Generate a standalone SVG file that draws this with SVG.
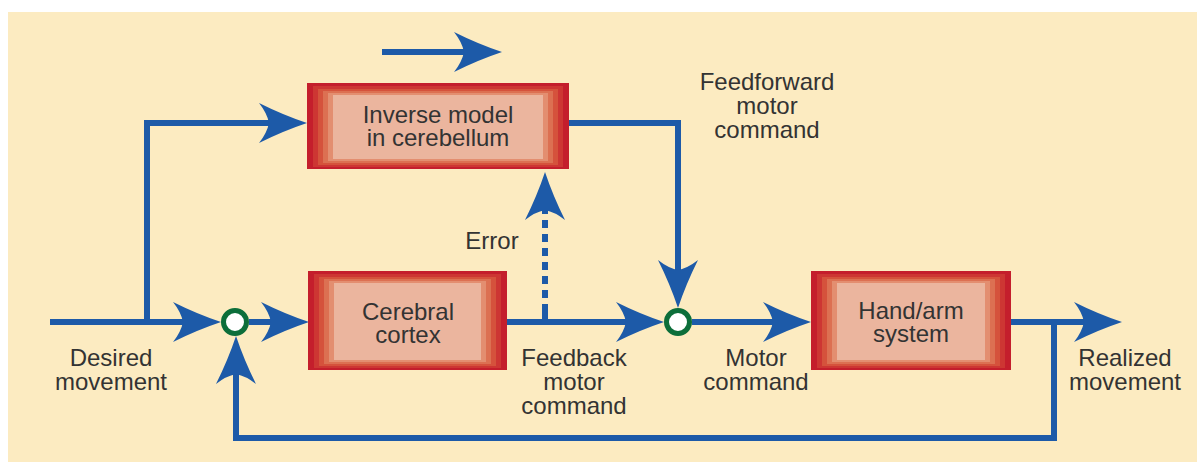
<svg xmlns="http://www.w3.org/2000/svg" width="1197" height="462" viewBox="0 0 1197 462">
<defs>
<marker id="ah" markerUnits="userSpaceOnUse" markerWidth="60" markerHeight="50" viewBox="0 0 60 50" refX="10" refY="20" orient="auto" overflow="visible">
<path d="M0,0 Q24,12 48,20 Q24,28 0,40 Q8,30 10,20 Q8,10 0,0 Z" fill="#1D5AA8"/>
</marker>
<style>
.bg{fill:#FCEBC1}
.ln{fill:none;stroke:#1D5AA8;stroke-width:6}
.dash{stroke-dasharray:8 6}
.c0{fill:#C41E2C}
.c1{fill:#CD3633}
.c2{fill:#D5523C}
.c3{fill:#DC7052}
.c4{fill:#E38E70}
.c5{fill:#EBB59E}
.sum{fill:#FFFFFF;stroke:#0C6E3A;stroke-width:5}
text{font-family:"Liberation Sans",Arial,sans-serif;font-size:24px;fill:#333333;text-anchor:middle}
</style>
</defs>
<rect class="bg" x="8" y="12" width="1189" height="450"/>

<g id="connectors">
<line class="ln" x1="382" y1="52" x2="464" y2="52" marker-end="url(#ah)"/>
<polyline class="ln" points="50,322 183,322" marker-end="url(#ah)"/>
<polyline class="ln" points="147,322 147,123 269,123" marker-end="url(#ah)"/>
<line class="ln" x1="249" y1="322" x2="271" y2="322" marker-end="url(#ah)"/>
<line class="ln" x1="507" y1="322" x2="626" y2="322" marker-end="url(#ah)"/>
<line class="ln" x1="545" y1="322" x2="545" y2="312"/>
<line class="ln dash" x1="545" y1="312" x2="545" y2="210" marker-end="url(#ah)"/>
<polyline class="ln" points="569,123 678,123 678,270" marker-end="url(#ah)"/>
<line class="ln" x1="692" y1="322" x2="773" y2="322" marker-end="url(#ah)"/>
<line class="ln" x1="1011" y1="322" x2="1084" y2="322" marker-end="url(#ah)"/>
<polyline class="ln" points="1054,322 1054,438 236,438 236,374" marker-end="url(#ah)"/>
</g>

<g id="sum1"><circle class="sum" cx="235" cy="322" r="11.5"/></g>
<g id="sum2"><circle class="sum" cx="678" cy="322" r="11.5"/></g>

<g id="inverse-model">
<rect class="c0" x="307" y="83" width="262" height="86"/>
<rect class="c1" x="313" y="86" width="250" height="81"/>
<rect class="c2" x="318" y="89" width="240" height="76"/>
<rect class="c3" x="323" y="91" width="230" height="72"/>
<rect class="c4" x="328" y="93" width="220" height="68"/>
<rect class="c5" x="333" y="95" width="210" height="64"/>
<text x="438" y="123">Inverse model</text>
<text x="438" y="146">in cerebellum</text>
</g>

<g id="cerebral-cortex">
<rect class="c0" x="308" y="271" width="199" height="99"/>
<rect class="c1" x="314" y="274" width="187" height="94"/>
<rect class="c2" x="319" y="277" width="177" height="89"/>
<rect class="c3" x="324" y="279" width="167" height="85"/>
<rect class="c4" x="329" y="281" width="157" height="81"/>
<rect class="c5" x="334" y="283" width="147" height="77"/>
<text x="408" y="320">Cerebral</text>
<text x="408" y="343">cortex</text>
</g>

<g id="hand-arm">
<rect class="c0" x="811" y="271" width="200" height="99"/>
<rect class="c1" x="817" y="274" width="188" height="94"/>
<rect class="c2" x="822" y="277" width="178" height="89"/>
<rect class="c3" x="827" y="279" width="168" height="85"/>
<rect class="c4" x="832" y="281" width="158" height="81"/>
<rect class="c5" x="837" y="283" width="148" height="77"/>
<text x="911" y="319">Hand/arm</text>
<text x="911" y="342">system</text>
</g>

<g id="labels">
<text x="111" y="366">Desired</text>
<text x="111" y="390">movement</text>
<text x="574" y="366">Feedback</text>
<text x="574" y="390">motor</text>
<text x="574" y="414">command</text>
<text x="756" y="366">Motor</text>
<text x="756" y="390">command</text>
<text x="1125" y="366">Realized</text>
<text x="1125" y="390">movement</text>
<text x="767" y="90">Feedforward</text>
<text x="767" y="114">motor</text>
<text x="767" y="138">command</text>
<text x="492" y="249">Error</text>
</g>
</svg>
